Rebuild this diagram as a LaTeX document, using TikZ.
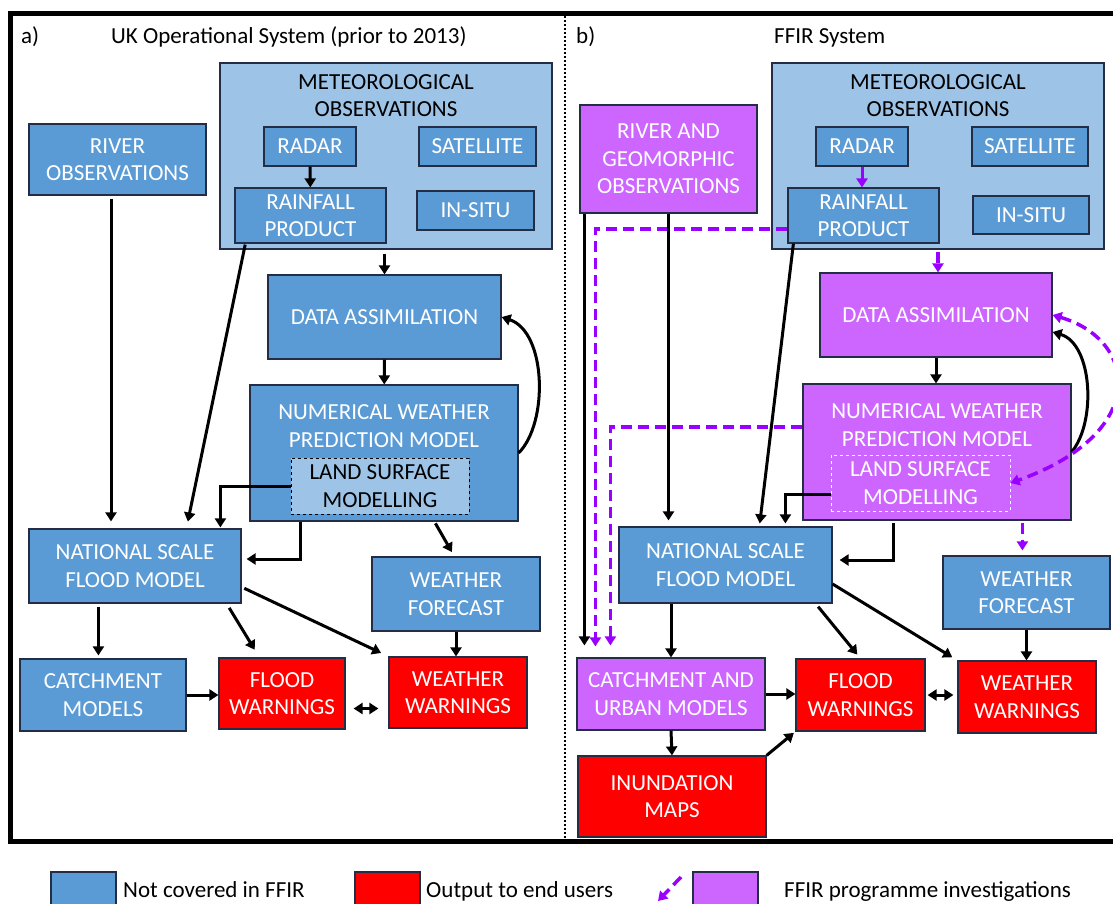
\documentclass[tikz,border=0pt]{standalone}
\usepackage{fontspec}
\setmainfont{Carlito}
\usetikzlibrary{arrows.meta,positioning}
\definecolor{boxblue}{RGB}{91,155,213}
\definecolor{lightblue}{RGB}{157,195,230}
\definecolor{boxred}{RGB}{255,0,0}
\definecolor{boxpurple}{RGB}{204,102,255}
\definecolor{ffirviolet}{RGB}{153,0,255}
\definecolor{edgecol}{RGB}{35,45,70}

\begin{document}
\begin{tikzpicture}[x=1pt, y=-1pt,
		>={Triangle[length=9pt,width=11pt]},
		font=\fontsize{23}{27.5}\selectfont,
		sz/.style 2 args={minimum width=#1, minimum height=#2},
		box/.style={rectangle, draw=edgecol, line width=1.2pt, inner sep=0pt, align=center, text=white},
		notbox/.style={box, fill=boxblue},
		outbox/.style={box, fill=boxred},
		ffirbox/.style={box, fill=boxpurple},
		metbox/.style={box, fill=lightblue},
		lsmbox/.style={box, dashed, line width=1pt},
		hdtext/.style={inner sep=0pt, align=center, text=black},
		boxtext/.style={inner sep=0pt, align=center, text=white},
		plain/.style={inner sep=0pt, anchor=base west},
		conn/.style={->, line width=3pt},
		ffirconn/.style={->, ffirviolet, line width=3.5pt, dash pattern=on 11pt off 6pt}]
		\path[use as bounding box] (0,0) rectangle (1113,903);
		\clip (0,0) rectangle (1113,903);
		% frame and divider
		\draw[line width=5pt] (10.5,13) rectangle (1125,841);
		\draw[line width=2pt, dash pattern=on 2pt off 2pt] (565,16) -- (565,838);
		\node[plain] (labA) at (21,43) {a)};
		\node[plain] (titA) at (111,43) {UK Operational System (prior to 2013)};
		\node[plain] (labB) at (576,43) {b)};
		\node[plain] (titB) at (774,43) {FFIR System};
		% a) UK operational system
		\node[metbox, sz={332}{186}] (metA) at (386,156) {};
		\node[hdtext] (metAtxt) at (386,95.5) {METEOROLOGICAL\\OBSERVATIONS};
		\node[notbox, sz={92}{39}] (radarA) at (310,146.5) {RADAR};
		\node[notbox, sz={117}{39}] (satA) at (477.5,146.5) {SATELLITE};
		\node[notbox, sz={151}{55}] (rainA) at (310.5,215.5) {RAINFALL\\PRODUCT};
		\node[notbox, sz={117}{39}] (insituA) at (475.5,210.5) {IN-SITU};
		\node[notbox, sz={177}{71}] (riverA) at (117.5,159.5) {RIVER\\OBSERVATIONS};
		\node[notbox, sz={233}{84}] (daA) at (384.5,317) {DATA ASSIMILATION};
		\node[notbox, sz={268}{136}] (nwpA) at (384,453) {};
		\node[boxtext] (nwpAtxt) at (384,426) {NUMERICAL WEATHER\\PREDICTION MODEL};
		\node[lsmbox, fill=lightblue, draw=black, text=black, sz={178}{56}] (lsmA) at (380,486) {LAND SURFACE\\MODELLING};
		\node[notbox, sz={212}{74}] (nsfmA) at (135,566) {NATIONAL SCALE\\FLOOD MODEL};
		\node[notbox, sz={168}{74}] (wfA) at (456,594) {WEATHER\\FORECAST};
		\node[notbox, sz={166}{72}] (catchA) at (103,695) {CATCHMENT\\MODELS};
		\node[outbox, sz={126}{71}] (floodA) at (282,693.5) {FLOOD\\WARNINGS};
		\node[outbox, sz={138}{71}] (wwA) at (458,692.5) {WEATHER\\WARNINGS};
		% b) FFIR system
		\node[metbox, sz={332}{186}] (metB) at (938,156) {};
		\node[hdtext] (metBtxt) at (938,95.5) {METEOROLOGICAL\\OBSERVATIONS};
		\node[notbox, sz={92}{39}] (radarB) at (862,146.5) {RADAR};
		\node[notbox, sz={116}{39}] (satB) at (1030,146.5) {SATELLITE};
		\node[notbox, sz={151}{55}] (rainB) at (863.5,215.5) {RAINFALL\\PRODUCT};
		\node[notbox, sz={116}{38}] (insituB) at (1031,215) {IN-SITU};
		\node[ffirbox, sz={177}{108}] (riverB) at (668.5,159) {RIVER AND\\GEOMORPHIC\\OBSERVATIONS};
		\node[ffirbox, sz={232}{84}] (daB) at (936,315) {DATA ASSIMILATION};
		\node[ffirbox, sz={268}{136}] (nwpB) at (937,452) {};
		\node[boxtext] (nwpBtxt) at (937,425) {NUMERICAL WEATHER\\PREDICTION MODEL};
		\node[lsmbox, fill=boxpurple, draw=white, sz={179}{56}] (lsmB) at (920.5,483) {LAND SURFACE\\MODELLING};
		\node[notbox, sz={213}{76}] (nsfmB) at (725.5,565) {NATIONAL SCALE\\FLOOD MODEL};
		\node[notbox, sz={167}{73}] (wfB) at (1026.5,592.5) {WEATHER\\FORECAST};
		\node[ffirbox, sz={188}{72}] (catchB) at (671,694) {CATCHMENT AND\\URBAN MODELS};
		\node[outbox, sz={129}{72}] (floodB) at (860.5,695) {FLOOD\\WARNINGS};
		\node[outbox, sz={138}{72}] (wwB) at (1027,697) {WEATHER\\WARNINGS};
		\node[outbox, sz={188}{81}] (inundB) at (672,796.5) {INUNDATION\\MAPS};
		% a) connectors
		\draw[conn] (radarA) -- (rainA);
		\draw[conn, shorten <=4pt] (metA.south -| daA.north) -- (daA.north);
		\draw[conn] (daA) -- (nwpA);
		\draw[conn] (nwpA.east) .. controls +(30,-30) and +(45,15) .. (daA.east);
		\draw[conn, shorten <=1pt, shorten >=7pt] ([xshift=11pt]rainA.south west) -- ([xshift=158pt]nsfmA.north west);
		\coordinate (rvA) at ([xshift=-6.5pt]riverA.south);
		\draw[conn, shorten <=3pt, shorten >=7pt] (rvA) -- (rvA |- nsfmA.north);
		\draw[conn, shorten >=1pt] (lsmA.west) -| ([xshift=192pt]nsfmA.north west);
		\draw[conn, shorten >=5pt] ([xshift=51pt]nwpA.south west) |- ([yshift=7pt]nsfmA.east);
		\draw[conn, shorten <=2pt, shorten >=5pt] ([xshift=185pt]nwpA.south west) -- ([xshift=83pt]wfA.north west);
		\draw[conn, shorten <=3pt, shorten >=3pt] ([xshift=70pt]nsfmA.south west) -- ([xshift=79pt]catchA.north west);
		\draw[conn] (catchA.east) -- (catchA.east -| floodA.west);
		\coordinate (fwA) at ([yshift=-15pt]floodA.east);
		\draw[conn, <->, shorten <=8pt, shorten >=10pt] (fwA) -- (fwA -| wwA.west);
		\draw[conn, shorten <=5pt, shorten >=9pt] ([xshift=-15pt]nsfmA.south east) -- ([xshift=41pt]floodA.north west);
		\draw[conn, shorten <=3pt, shorten >=8pt] ([yshift=-21pt]nsfmA.east) -- (wwA.north west);
		\draw[conn] (wfA.south) -- (wfA.south |- wwA.north);
		% b) connectors
		\draw[conn, ffirviolet] (radarB.south) -- (radarB.south |- rainB.north);
		\draw[ffirconn, shorten <=2pt] (metB.south) -- (metB.south |- daB.north);
		\draw[conn] (daB.south) -- (daB.south |- nwpB.north);
		\draw[conn] (nwpB.east) .. controls +(25,-30) and +(40,12) .. ([yshift=-17pt]daB.east);
		\draw[ffirconn, <->] (daB.east) .. controls +(85,25) and +(140,-50) .. (lsmB.east);
		\coordinate (rnB) at ([yshift=-13.5pt]rainB.west);
		\draw[ffirconn, shorten >=11pt] (rnB) -| ([xshift=19pt]catchB.north west);
		\coordinate (nwB) at ([yshift=25pt]nwpB.west);
		\draw[ffirconn, shorten >=12pt] (nwB) -| ([xshift=34pt]catchB.north west);
		\coordinate (rvB) at ([xshift=5pt]riverB.south west);
		\draw[conn, shorten >=12pt] (rvB) -- (rvB |- catchB.north);
		\draw[conn, shorten >=6pt] (riverB.south) -- (riverB.south |- nsfmB.north);
		\draw[conn, shorten >=3pt] ([xshift=6pt]rainB.south west) -- ([xshift=141pt]nsfmB.north west);
		\draw[conn, shorten >=3pt] ([yshift=-11pt]lsmB.west) -| ([xshift=167pt]nsfmB.north west);
		\draw[conn, shorten <=2pt, shorten >=7pt] ([xshift=91pt]nwpB.south west) |- ([yshift=5pt]nsfmB.east);
		\coordinate (wfB1) at ([xshift=220pt]nwpB.south west);
		\draw[ffirconn, shorten <=2pt, shorten >=5pt] (wfB1) -- (wfB1 |- wfB.north);
		\draw[conn] (catchB.north |- nsfmB.south) -- (catchB.north);
		\draw[conn] (catchB.east) -- (catchB.east -| floodB.west);
		\draw[conn, <->, shorten <=2pt, shorten >=4pt] (floodB.east) -- (floodB.east -| wwB.west);
		\draw[conn, shorten <=4pt, shorten >=5pt] ([xshift=-17pt]nsfmB.south east) -- (floodB.north);
		\draw[conn, shorten >=6pt] ([yshift=-19pt]nsfmB.east) -- (wwB.north west);
		\draw[conn] (wfB.south) -- (wfB.south |- wwB.north);
		\draw[conn] (catchB.south) -- (inundB.north);
		\draw[conn, shorten >=2pt] (inundB.north east) -- (floodB.south west);
		% legend
		\node[notbox, sz={65}{40}] (legNot) at (83.5,892) {};
		\node[plain] (legNotTxt) at (123,897) {Not covered in FFIR};
		\node[outbox, sz={65}{40}] (legOut) at (387.5,892) {};
		\node[plain] (legOutTxt) at (426,897) {Output to end users};
		\coordinate (legA) at (681,877);
		\coordinate (legB) at (658,901);
		\draw[ffirconn] (legA) -- (legB);
		\node[ffirbox, sz={65}{40}] (legFfir) at (725.5,892) {};
		\node[plain] (legFfirTxt) at (784,897) {FFIR programme investigations};
	\end{tikzpicture}
\end{document}
